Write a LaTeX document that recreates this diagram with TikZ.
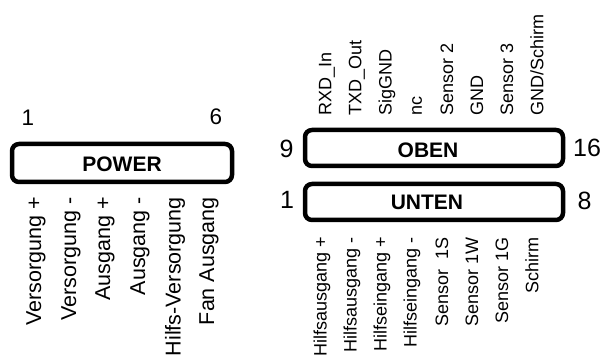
\documentclass[tikz,border=0pt]{standalone}
\usepackage{fontspec}
\setmainfont{Liberation Sans}
\usepackage{tikz}
\tikzset{
    pinbox/.style={draw, line width=4.5pt, rounded corners=7pt, inner sep=0pt},
    boxtitle/.style={font=\fontsize{21}{25}\selectfont\bfseries},
    pinnum/.style={font=\fontsize{25}{30}\selectfont},
    pinlbl/.style={rotate=90, inner sep=0pt, font=\fontsize{18}{22}\selectfont},
    pwrlbl/.style={pinlbl, font=\fontsize{21.5}{25}\selectfont}
}

\begin{document}
\begin{tikzpicture}[x=1pt, y=-1pt]
    \useasboundingbox (0, 0) rectangle (603, 358);
    % POWER
    \node[pinbox, minimum width=220pt, minimum height=38pt](power)at(122, 163){};
    \node[boxtitle](powertitle)at(122, 164){POWER};
    \node[pinnum, font=\fontsize{22.5}{26}\selectfont](pwfirst)at(28, 117.5){1};
    \node[pinnum, font=\fontsize{22.5}{26}\selectfont](pwlast)at(216, 117){6};
    \node[pwrlbl, anchor=east](pw1)at(36, 197){Versorgung +};
    \node[pwrlbl, anchor=east](pw2)at(71, 197){Versorgung -};
    \node[pwrlbl, anchor=east](pw3)at(105, 197){Ausgang +};
    \node[pwrlbl, anchor=east](pw4)at(140, 197){Ausgang -};
    \node[pwrlbl, anchor=east](pw5)at(175, 197){Hilfs-Versorgung};
    \node[pwrlbl, anchor=east](pw6)at(209, 197){Fan Ausgang};
    % OBEN
    \node[pinbox, minimum width=258pt, minimum height=36pt](oben)at(434, 148){};
    \node[boxtitle](obentitle)at(428, 150){OBEN};
    \node[pinnum](obfirst)at(286.5, 149){9};
    \node[pinnum](oblast)at(587, 148){16};
    \node[pinlbl, anchor=west](ob9)at(327, 116){RXD\_In};
    \node[pinlbl, anchor=west](ob10)at(357, 116){TXD\_Out};
    \node[pinlbl, anchor=west](ob11)at(387, 116){SigGND};
    \node[pinlbl, anchor=west](ob12)at(417, 116){nc};
    \node[pinlbl, anchor=west](ob13)at(447, 116){Sensor 2};
    \node[pinlbl, anchor=west](ob14)at(477, 116){GND};
    \node[pinlbl, anchor=west](ob15)at(507, 116){Sensor 3};
    \node[pinlbl, anchor=west](ob16)at(537, 116){GND/Schirm};
    % UNTEN
    \node[pinbox, minimum width=258pt, minimum height=36pt](unten)at(434, 202){};
    \node[boxtitle](untentitle)at(427, 202.5){UNTEN};
    \node[pinnum](unfirst)at(287, 200){1};
    \node[pinnum](unlast)at(584.5, 201){8};
    \node[pinlbl, anchor=east](un1)at(322, 237){Hilfsausgang +};
    \node[pinlbl, anchor=east](un2)at(352, 237){Hilfsausgang -};
    \node[pinlbl, anchor=east](un3)at(382, 237){Hilfseingang +};
    \node[pinlbl, anchor=east](un4)at(412, 237){Hilfseingang -};
    \node[pinlbl, anchor=east](un5)at(442, 237){Sensor\ \ 1S};
    \node[pinlbl, anchor=east](un6)at(472, 237){Sensor 1W};
    \node[pinlbl, anchor=east](un7)at(502, 237){Sensor 1G};
    \node[pinlbl, anchor=east](un8)at(532, 237){Schirm};
\end{tikzpicture}
\end{document}
